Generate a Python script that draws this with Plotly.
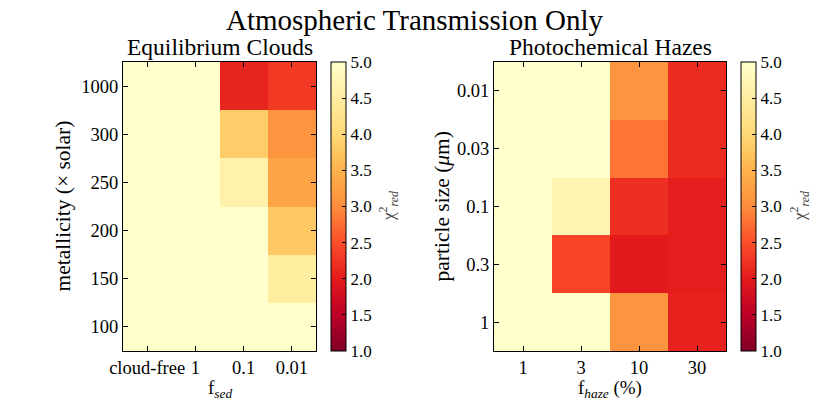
import plotly.graph_objects as go

# ---- data ----
fsed_labels = ["cloud-free", "1", "0.1", "0.01"]
metallicity_labels = ["100", "150", "200", "250", "300", "1000"]
# rows: metallicity (bottom -> top), cols: fsed
chi2_clouds = [
    [5.0, 5.0, 5.0, 5.0],
    [5.0, 5.0, 5.0, 4.5],
    [5.0, 5.0, 5.0, 3.8],
    [5.0, 5.0, 4.6, 3.3],
    [5.0, 5.0, 3.85, 3.1],
    [5.0, 5.0, 2.1, 2.3],
]

fhaze_labels = ["1", "3", "10", "30"]
particle_labels = ["1", "0.3", "0.1", "0.03", "0.01"]
# rows: particle size (bottom -> top), cols: fhaze
chi2_hazes = [
    [5.0, 5.0, 3.1, 2.08],
    [5.0, 2.4, 2.0, 2.03],
    [5.0, 4.7, 2.2, 2.05],
    [5.0, 5.0, 2.8, 2.15],
    [5.0, 5.0, 3.1, 2.15],
]

cbar_ticks = [1.0, 1.5, 2.0, 2.5, 3.0, 3.5, 4.0, 4.5, 5.0]

# ---- style ----
W, H = 830, 415
FONT = "Liberation Serif"
ylorrd = [
    [0.0, "rgb(128,0,38)"], [0.125, "rgb(189,0,38)"], [0.25, "rgb(227,26,28)"],
    [0.375, "rgb(252,78,42)"], [0.5, "rgb(253,141,60)"], [0.625, "rgb(254,178,76)"],
    [0.75, "rgb(254,217,118)"], [0.875, "rgb(255,237,160)"], [1.0, "rgb(255,255,204)"],
]

def px(x):
    return x / W

def py(y):
    return 1 - y / H

ax_top, ax_bot = 62, 351
L = (123, 316)
R = (494, 726)
ymid = (ax_top + ax_bot) / 2

def cbar(x_left):
    return dict(
        x=px(x_left), xanchor="left", xref="paper",
        y=py(ymid), yanchor="middle", yref="paper",
        len=ax_bot - ax_top, lenmode="pixels",
        thickness=15, thicknessmode="pixels",
        xpad=0, ypad=0,
        outlinewidth=1, outlinecolor="black",
        tickvals=cbar_ticks, tickformat=".1f",
        ticks="inside", ticklen=4, tickcolor="black",
        tickfont=dict(family=FONT, size=17, color="black"),
    )

fig = go.Figure()
fig.add_trace(go.Heatmap(
    x=fsed_labels, y=metallicity_labels, z=chi2_clouds,
    zmin=1, zmax=5, colorscale=ylorrd, colorbar=cbar(331),
    xaxis="x", yaxis="y", hoverinfo="skip",
))
fig.add_trace(go.Heatmap(
    x=fhaze_labels, y=particle_labels, z=chi2_hazes,
    zmin=1, zmax=5, colorscale=ylorrd, colorbar=cbar(741),
    xaxis="x2", yaxis="y2", hoverinfo="skip",
))

axis_common = dict(
    type="category", showline=True, linecolor="black", linewidth=1, mirror="ticks",
    ticks="inside", ticklen=5, tickcolor="black", showgrid=False, zeroline=False,
    automargin=False,
    tickfont=dict(family=FONT, size=18.5, color="black"),
)

def ann(text, x, y, size, angle=0, color="black"):
    return dict(text=text, x=px(x), y=py(y), xref="paper", yref="paper",
                showarrow=False, xanchor="center", yanchor="middle", textangle=angle,
                font=dict(family=FONT, size=size, color=color))

fig.update_layout(
    template=None,
    width=W, height=H,
    margin=dict(l=0, r=0, t=0, b=0, autoexpand=False),
    paper_bgcolor="white", plot_bgcolor="white",
    font=dict(family=FONT, color="black"),
    xaxis=dict(axis_common, domain=[px(L[0]), px(L[1])], anchor="y", range=[-0.5, 3.5]),
    yaxis=dict(axis_common, domain=[py(ax_bot), py(ax_top)], anchor="x", range=[-0.5, 5.5]),
    xaxis2=dict(axis_common, domain=[px(R[0]), px(R[1])], anchor="y2", range=[-0.5, 3.5]),
    yaxis2=dict(axis_common, domain=[py(ax_bot), py(ax_top)], anchor="x2", range=[-0.5, 4.5]),
    annotations=[
        ann("Atmospheric Transmission Only", 415, 20, 29),
        ann("Equilibrium Clouds", (L[0] + L[1]) / 2, 47, 23.5),
        ann("Photochemical Hazes", (R[0] + R[1]) / 2, 47, 23.5),
        ann("f<sub><i>sed</i></sub>", (L[0] + L[1]) / 2, 389, 19),
        ann("f<sub><i>haze</i></sub> (%)", (R[0] + R[1]) / 2, 389, 19),
        ann("metallicity (× solar)", 63, ymid, 21.5, -90),
        ann("particle size (<i>μ</i>m)", 442, ymid, 21.5, -90),
        ann("χ<sup>2</sup><sub><i>red</i></sub>", 388, 206, 17, -90, "#444"),
        ann("χ<sup>2</sup><sub><i>red</i></sub>", 799, 206, 17, -90, "#444"),
    ],
)

fig.write_html(
    "out.html",
    config={"displayModeBar": False, "staticPlot": True},
    post_script="document.body.style.margin='0';document.body.style.overflow='hidden';",
)
